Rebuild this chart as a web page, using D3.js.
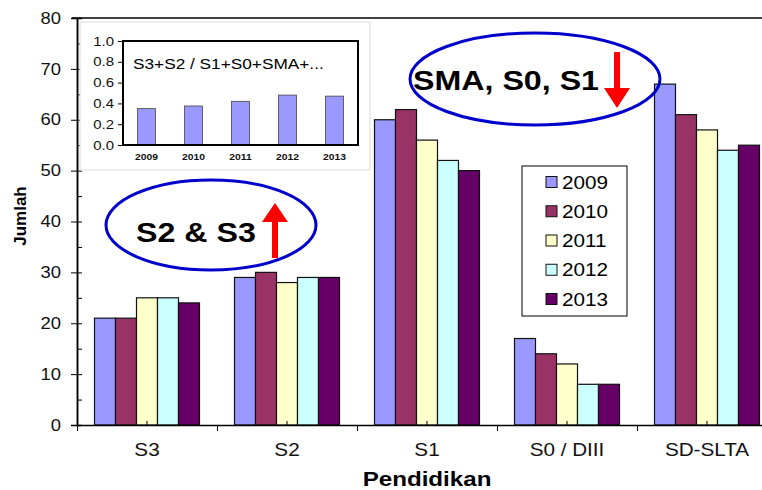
<!DOCTYPE html>
<html>
<head>
<meta charset="utf-8">
<script src="https://cdn.jsdelivr.net/npm/d3@7"></script>
<style>
  body { margin: 0; background: #fff; }
  text { font-family: "Liberation Sans", Arial, sans-serif; }
</style>
</head>
<body>
<div id="chart"></div>
<script>
// Data
const categories = ["S3", "S2", "S1", "S0 / DIII", "SD-SLTA"];
const years = ["2009", "2010", "2011", "2012", "2013"];
const v2009 = [21, 29, 60, 17, 67];
const v2010 = [21, 30, 62, 14, 61];
const v2011 = [25, 28, 56, 12, 58];
const v2012 = [25, 29, 52, 8, 54];
const v2013 = [24, 29, 50, 8, 55];
const yTicks = [0, 10, 20, 30, 40, 50, 60, 70, 80];
const yMinorTicks = d3.range(0, 81, 5);

// inset: ratio S3+S2 / rest
const ratioValues = [0.35, 0.375, 0.42, 0.48, 0.47];
const insetTicks = [0, 0.2, 0.4, 0.6, 0.8, 1.0];

const colors = ["#9999ff", "#993366", "#ffffcc", "#ccffff", "#660066"];
const series = [v2009, v2010, v2011, v2012, v2013];

// Base variables
const w = 762;
const h = 490;
const SX = 1.15; // horizontal text stretch of the original picture

const svg = d3.select("#chart")
  .append("svg")
  .attr("width", w)
  .attr("height", h);

// Scales
const x0 = d3.scaleBand()
  .domain(categories)
  .range([77, 777])
  .paddingInner(0.25)
  .paddingOuter(0.125);

const x1 = d3.scaleBand()
  .domain(years)
  .range([0, x0.bandwidth()]);

const xIdx = d3.scaleLinear().domain([0, 5]).range([77, 777]);

const y = d3.scaleLinear().domain([0, 80]).range([425, 18]);

function stretchText(sel) {
  sel.attr("x", function () { return (+this.getAttribute("x") || 0) / SX; })
    .attr("transform", `scale(${SX},1)`);
}

// top border of plot area
svg.append("line")
  .attr("x1", 72).attr("x2", w)
  .attr("y1", y(80)).attr("y2", y(80))
  .attr("stroke", "#000").attr("stroke-width", 1.5);

// Bars
const rows = categories.map((c, i) => ({ cat: c, vals: series.map(s => s[i]) }));
svg.append("g")
  .selectAll("g")
  .data(rows)
  .enter()
  .append("g")
  .attr("transform", d => `translate(${x0(d.cat)},0)`)
  .selectAll("rect")
  .data(d => d.vals.map((v, j) => ({ year: years[j], v, j })))
  .enter()
  .append("rect")
  .attr("x", d => x1(d.year))
  .attr("y", d => y(d.v))
  .attr("width", x1.bandwidth())
  .attr("height", d => y(0) - y(d.v))
  .attr("fill", d => colors[d.j])
  .attr("stroke", "#111")
  .attr("stroke-width", 1.2);

// y-axis
const yAxis = svg.append("g")
  .attr("transform", "translate(77,0)")
  .call(d3.axisLeft(y).tickValues(yTicks).tickSize(6).tickPadding(10));
yAxis.selectAll("text").style("font-size", "16px").attr("fill", "#111").call(stretchText);

svg.append("g")
  .attr("transform", "translate(77,0)")
  .call(d3.axisRight(y).tickValues(yMinorTicks).tickSize(5).tickFormat(""));

svg.selectAll(".domain").attr("stroke-width", 1.5);

// x-axis
svg.append("g")
  .attr("transform", "translate(0,425)")
  .call(d3.axisBottom(xIdx).tickValues(d3.range(0, 6)).tickSize(6).tickFormat(""))
  .select(".domain").remove();

const xAxis = svg.append("g")
  .attr("transform", "translate(0,425)")
  .call(d3.axisBottom(x0).tickSizeInner(-4).tickSizeOuter(0).tickPadding(18));
xAxis.select(".domain")
  .attr("d", `M77,0.5H${w}`)
  .attr("stroke-width", 1.5);
xAxis.selectAll("text").style("font-size", "18px").attr("fill", "#111").call(stretchText);

// axis titles
svg.append("text")
  .attr("transform", `translate(427,486) scale(${SX},1)`)
  .attr("text-anchor", "middle")
  .style("font-size", "21px")
  .style("font-weight", "bold")
  .text("Pendidikan");

svg.append("text")
  .attr("transform", "translate(26,216) rotate(-90)")
  .attr("text-anchor", "middle")
  .style("font-size", "17px")
  .style("font-weight", "bold")
  .text("Jumlah");

// Legend
const legend = svg.append("g");
legend.append("rect")
  .attr("x", 522).attr("y", 166)
  .attr("width", 105).attr("height", 150)
  .attr("fill", "#fff").attr("stroke", "#000").attr("stroke-width", 1);
const legRow = d3.scalePoint().domain(years).range([182, 299]);
years.forEach((yr, j) => {
  legend.append("rect")
    .attr("x", 546).attr("y", legRow(yr) - 5.5)
    .attr("width", 11).attr("height", 11)
    .attr("fill", colors[j]).attr("stroke", "#111");
  legend.append("text")
    .attr("transform", `translate(562,${legRow(yr) + 6.5}) scale(${SX},1)`)
    .style("font-size", "18px")
    .text(yr);
});

// Inset chart
const inset = svg.append("g");
inset.append("rect")
  .attr("x", 80).attr("y", 22)
  .attr("width", 290).attr("height", 148)
  .attr("fill", "#fff").attr("stroke", "#dcdcdc");

const ix = d3.scaleBand().domain(years).range([123, 358]).paddingInner(0.62).paddingOuter(0.31);
const iy = d3.scaleLinear().domain([0, 1]).range([145, 41]);

inset.selectAll(".ibar")
  .data(ratioValues)
  .enter()
  .append("rect")
  .attr("class", "ibar")
  .attr("x", (d, i) => ix(years[i]))
  .attr("y", d => iy(d))
  .attr("width", ix.bandwidth())
  .attr("height", d => iy(0) - iy(d))
  .attr("fill", "#9999ff")
  .attr("stroke", "#444")
  .attr("stroke-width", 0.8);

inset.append("rect")
  .attr("x", 123).attr("y", iy(1))
  .attr("width", 235).attr("height", iy(0) - iy(1))
  .attr("fill", "none").attr("stroke", "#000").attr("stroke-width", 2);

const iyAxis = inset.append("g")
  .attr("transform", "translate(123,0)")
  .call(d3.axisLeft(iy).tickValues(insetTicks).tickSize(5).tickPadding(4).tickFormat(d3.format(".1f")));
iyAxis.select(".domain").remove();
iyAxis.selectAll("text").style("font-size", "13px").attr("fill", "#111").call(stretchText);

const ixAxis = inset.append("g")
  .attr("transform", "translate(0,145)")
  .call(d3.axisBottom(ix).tickSize(0).tickPadding(9));
ixAxis.select(".domain").remove();
ixAxis.selectAll("text").style("font-size", "9px").style("font-weight", "bold").attr("fill", "#111").call(stretchText);

inset.append("text")
  .attr("transform", `translate(133,69) scale(${SX},1)`)
  .style("font-size", "15px")
  .text("S3+S2 / S1+S0+SMA+...");

// Annotations
const ann = svg.append("g");
ann.append("ellipse")
  .attr("cx", 211).attr("cy", 225).attr("rx", 105).attr("ry", 45)
  .attr("fill", "none").attr("stroke", "#0000cc").attr("stroke-width", 3);
ann.append("text")
  .attr("transform", `translate(136,242) scale(${SX},1)`)
  .style("font-size", "28px").style("font-weight", "bold")
  .text("S2 & S3");
ann.append("path")
  .attr("d", "M272,258V222H262L275,203L288,222H278V258Z")
  .attr("fill", "#ff0000");

ann.append("ellipse")
  .attr("cx", 535).attr("cy", 79).attr("rx", 125).attr("ry", 46)
  .attr("fill", "none").attr("stroke", "#0000cc").attr("stroke-width", 3);
ann.append("text")
  .attr("transform", `translate(413,90) scale(${SX},1)`)
  .style("font-size", "28px").style("font-weight", "bold")
  .text("SMA, S0, S1");
ann.append("path")
  .attr("d", "M614,52V88H604L617,108L630,88H620V52Z")
  .attr("fill", "#ff0000");
</script>
</body>
</html>
